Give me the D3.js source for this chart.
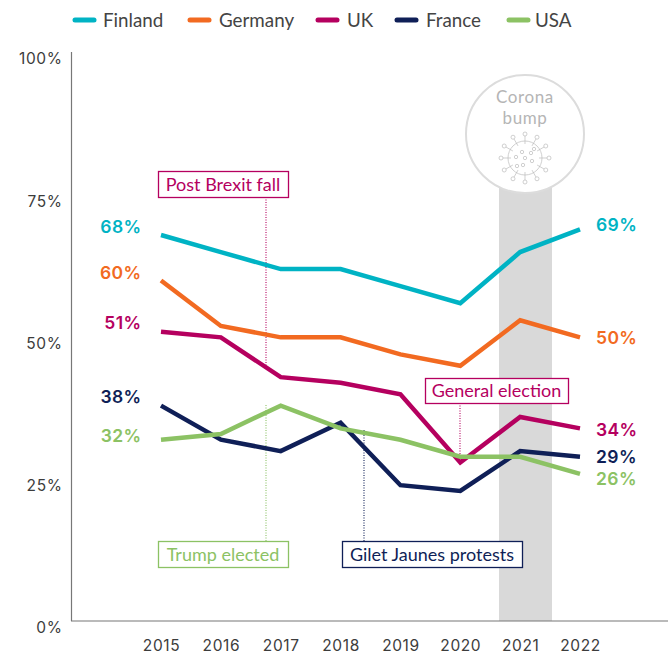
<!DOCTYPE html>
<html><head><meta charset="utf-8">
<script src="https://cdn.jsdelivr.net/npm/d3@7/dist/d3.min.js"></script>
<style>html,body{margin:0;padding:0;background:#fff}svg{display:block}</style></head>
<body><div id="c"></div>
<script>
const years=[2015,2016,2017,2018,2019,2020,2021,2022];
const yTicks=[0,25,50,75,100];
const finland=[68,65,62,62,59,56,65,69];
const germany=[60,52,50,50,47,45,53,50];
const uk=[51,50,43,42,40,28,36,34];
const france=[38,32,30,35,24,23,30,29];
const usa=[32,33,38,34,32,29,29,26];
const names=["Finland","Germany","UK","France","USA"];
const colors=["#00b3c4","#f26a21","#b5005f","#0f1f57","#8cc264"];
const seriesValues=[finland,germany,uk,france,usa];
const legendX=[73,188,316,395,507];
const legendTextX=[103,219,347,426,535];
const notes=[
 {text:"Post Brexit fall",c:"#b5005f",x0:158,x1:288,y0:171,y1:197,px:266,py1:365,top:true},
 {text:"Trump elected",c:"#8cc264",x0:158,x1:288,y0:541,y1:567,px:266,py1:405,top:false},
 {text:"Gilet Jaunes protests",c:"#0f1f57",x0:342,x1:522,y0:541,y1:567,px:364,py1:430,top:false},
 {text:"General election",c:"#b5005f",x0:425,x1:568,y0:378,y1:403,px:460,py1:462,top:true}
];
const W=672,H=655;
const svg=d3.select("#c").append("svg").attr("width",W).attr("height",H);
const x=d3.scalePoint().domain(years).range([161,580]);
const y=d3.scaleLinear().domain([0,100]).range([621.7,53]);
const body="Lato,'Open Sans',sans-serif", num="Inter,'Open Sans',sans-serif";

// band and bump
svg.append("rect").attr("x",499).attr("width",53).attr("y",180).attr("height",441).attr("fill","#d9d9d9");
svg.append("circle").attr("cx",525).attr("cy",134).attr("r",59).attr("fill","#fff").attr("stroke","#dcdcdc").attr("stroke-width",2);
svg.append("text").attr("x",525).attr("y",103).attr("text-anchor","middle").attr("font-family",body).attr("font-size",17).attr("letter-spacing",.6).attr("fill","#b5b5b5").text("Corona");
svg.append("text").attr("x",525).attr("y",124).attr("text-anchor","middle").attr("font-family",body).attr("font-size",17).attr("letter-spacing",.6).attr("fill","#b5b5b5").text("bump");
const v=svg.append("g").attr("transform","translate(525,158)").attr("fill","none").attr("stroke","#bbb").attr("stroke-width",.7);
v.append("circle").attr("r",17);
d3.range(12).forEach(i=>{const a=i/12*2*Math.PI,c=Math.cos(a),s=Math.sin(a);
 v.append("line").attr("x1",c*14).attr("y1",s*14).attr("x2",c*22).attr("y2",s*22);
 v.append("circle").attr("cx",c*24).attr("cy",s*24).attr("r",2);});
[[-3,-6],[6,-5],[-9,-1],[0,0],[7,3],[-2,7],[9,-9],[-8,8]].forEach(p=>v.append("circle").attr("cx",p[0]).attr("cy",p[1]).attr("r",1.7));

// axes
const ya=svg.append("g").attr("transform","translate(71.5,0)").call(d3.axisLeft(y).tickValues(yTicks).tickFormat(d=>d+"%").tickSize(0).tickPadding(9));
ya.select(".domain").attr("d","M0,52V621").attr("stroke","#777").attr("stroke-width",1.2);
ya.selectAll("text").attr("font-family",num).attr("font-size",15.5).attr("letter-spacing",.6).attr("fill","#3c3c3c").attr("dy","0.7em");
const xa=svg.append("g").attr("transform","translate(0,621)").call(d3.axisBottom(x).tickFormat(d3.format("d")).tickSize(0).tickPadding(19));
xa.select(".domain").attr("d","M71,0H668").attr("stroke","#777").attr("stroke-width",1.2);
xa.selectAll("text").attr("font-family",num).attr("font-size",15.5).attr("letter-spacing",.6).attr("fill","#3c3c3c");

// notes leaders
svg.selectAll("line.lead").data(notes).join("line").attr("x1",d=>d.px).attr("x2",d=>d.px)
 .attr("y1",d=>d.top?d.y1:d.y0).attr("y2",d=>d.py1).attr("stroke",d=>d.c).attr("stroke-width",1.1).attr("stroke-dasharray","1 1.5");

// lines
const line=d3.line().x((d,i)=>x(years[i])).y(d=>y(d));
svg.selectAll("path.s").data(seriesValues).join("path").attr("class","s").attr("d",line)
 .attr("fill","none").attr("stroke",(d,i)=>colors[i]).attr("stroke-width",4.5);

// notes boxes
notes.forEach(n=>{
 svg.append("rect").attr("x",n.x0+.5).attr("y",n.y0+.5).attr("width",n.x1-n.x0).attr("height",n.y1-n.y0).attr("fill","#fff").attr("stroke",n.c).attr("stroke-width",1.3);
 svg.append("text").attr("x",(n.x0+n.x1)/2).attr("y",(n.y0+n.y1)/2+6.5).attr("text-anchor","middle").attr("font-family",body).attr("font-size",18).attr("fill",n.c).text(n.text);
});

// end labels
const labelOffsetL=[-8,-8,-9,-9,-4], labelOffsetR=[-4,1,2,0,5];
seriesValues.forEach((vals,i)=>{
 svg.append("text").attr("x",141.5).attr("y",y(vals[0])+labelOffsetL[i]).attr("dy","0.35em").attr("text-anchor","end").attr("font-family",num).attr("font-weight",600).attr("font-size",17.5).attr("letter-spacing",.4).attr("fill",colors[i]).text(vals[0]+"%");
 svg.append("text").attr("x",596).attr("y",y(vals[7])+labelOffsetR[i]).attr("dy","0.35em").attr("font-family",num).attr("font-weight",600).attr("font-size",17.5).attr("letter-spacing",.4).attr("fill",colors[i]).text(vals[7]+"%");
});

// legend
names.forEach((n,i)=>{
 svg.append("line").attr("x1",legendX[i]+2).attr("x2",legendX[i]+21).attr("y1",20).attr("y2",20).attr("stroke",colors[i]).attr("stroke-width",5).attr("stroke-linecap","round");
 svg.append("text").attr("x",legendTextX[i]).attr("y",27).attr("font-family",body).attr("font-size",18.8).attr("fill","#444").text(n);
});
</script></body></html>
